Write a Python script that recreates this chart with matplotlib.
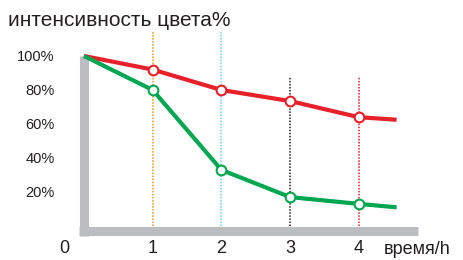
import matplotlib.pyplot as plt

plt.rcParams['font.family'] = ['Liberation Sans', 'DejaVu Sans']

# data
hours = [0, 1, 2, 3, 4, 4.55]
red_vals = [100, 92, 80, 73.5, 64, 62.5]
green_vals = [100, 80, 33, 17, 13, 11]
marker_hours = [1, 2, 3, 4]
y_ticks = [100, 80, 60, 40, 20]
x_ticks = [0, 1, 2, 3, 4]
guide_hours = [1, 2, 3, 4]
guide_tops = [114, 114, 87.5, 87.5]
guide_colors = ['#f7941d', '#6dcff6', '#231f20', '#ed1c24']

red = '#e8202a'
green = '#00a651'
grey = '#bcbdc0'

fig = plt.figure(figsize=(4.63, 2.60), dpi=100)
ax = fig.add_axes([0, 0, 1, 1])
ax.set_xlim(-84 / 68.7, (463 - 84) / 68.7)
ax.set_ylim(-20, 226 / 1.7)
ax.axis('off')

# grey L-shaped axes
ax.plot([-0.007, -0.007], [100, -5.9], color=grey, lw=6.5, solid_capstyle='butt', zorder=1)
ax.plot([-0.073, 4.86], [-3.2, -3.2], color=grey, lw=6.5, solid_capstyle='butt', zorder=1)

# dotted guides
for h, top, c in zip(guide_hours, guide_tops, guide_colors):
    ax.plot([h, h], [0, top], color=c, lw=1.1, ls=(0, (1, 1)), zorder=2)

# lines
ax.plot(hours, red_vals, color=red, lw=3, zorder=3, solid_capstyle='butt')
ax.plot(hours, green_vals, color=green, lw=3, zorder=3, solid_capstyle='butt')
ax.plot(marker_hours, red_vals[1:5], 'o', ms=7, mfc='white', mec=red, mew=1.5, zorder=4)
ax.plot(marker_hours, green_vals[1:5], 'o', ms=7, mfc='white', mec=green, mew=1.5, zorder=4)

# tick labels
for v in y_ticks:
    ax.text(-28 / 68.7 - 0.02, v - 0.5, f'{v}%', ha='right', va='center', fontsize=10.5, color='#231f20')
for t in x_ticks:
    xpos = t if t > 0 else -20 / 68.7
    ax.text(xpos, -13, str(t), ha='center', va='center', fontsize=13, color='#231f20')
ax.text(300 / 68.7, -14, 'время/h', ha='left', va='center', fontsize=13, color='#231f20')

ax.text(-76 / 68.7, 121, 'интенсивность цвета%', ha='left', va='center', fontsize=15, color='#231f20')

fig.savefig('out.png', dpi=100)
